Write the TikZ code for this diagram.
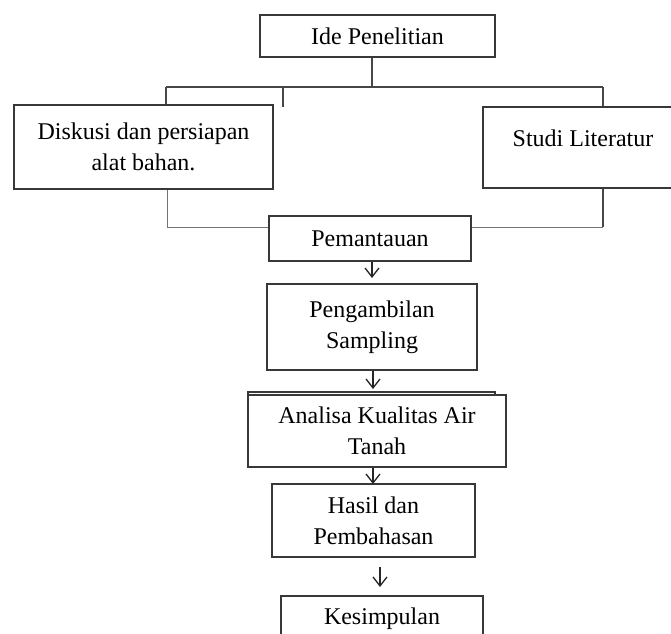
\documentclass[tikz,border=0pt]{standalone}
\usepackage{fontspec}
\setmainfont{Liberation Serif}
\usetikzlibrary{arrows.meta}
\begin{document}
\begin{tikzpicture}[x=1pt,y=-1pt,
  box/.style={draw=black!78, line width=1.5pt, fill=white, inner sep=0pt,
    align=center, font=\fontsize{24}{31}\selectfont},
  link/.style={draw=black!72, line width=1.2pt},
  thin/.style={draw=black!55, line width=1pt},
  arr/.style={draw=black!85, line width=1.3pt, -{Straight Barb[length=9pt,width=14pt]}}
]
\useasboundingbox (0,0) rectangle (671,633);

% boxes
\node[box, minimum width=235pt, minimum height=42pt] (ide) at (377.5,36) {Ide Penelitian};
\node[box, minimum width=259pt, minimum height=84pt] (disk) at (143.5,147) {Diskusi dan persiapan\\alat bahan.};
\node[box, minimum width=200pt, minimum height=81pt, text depth=19pt] (studi) at (583,147.5) {Studi Literatur};
\node[box, minimum width=202pt, minimum height=45pt] (pem) at (370,238.5) {Pemantauan};
\node[box, minimum width=210pt, minimum height=86pt] (peng) at (372,327) {Pengambilan\\Sampling};
\draw[draw=black!78, line width=1.2pt, fill=white] (248,392) rectangle (495,420);
\node[box, minimum width=258pt, minimum height=72pt] (ana) at (377,431) {Analisa Kualitas Air\\Tanah};
\node[box, minimum width=203pt, minimum height=73pt] (hasil) at (373.5,520.5) {Hasil dan\\Pembahasan};
\node[box, minimum width=202pt, minimum height=45pt] (kes) at (382,618.5) {Kesimpulan};

% top tree
\coordinate (hub) at (372,87);
\coordinate (hl) at (166,87);
\coordinate (hr) at (603,87);
\coordinate (hm) at (283,87);
\coordinate (stubend) at (283,107);
\draw[link] (ide.south -| hub) -- (hub);
\draw[link] (hl) -- (hr);
\draw[link] (hl) -- (hl |- disk.north);
\draw[link] (hr) -- (hr |- studi.north);
\draw[link] (hm) -- (stubend);

% joins to Pemantauan
\coordinate (jl) at (167,227);
\coordinate (jr) at (603,227);
\draw[thin] (disk.south -| jl) -- (jl) -- (jl -| pem.west);
\draw[link] (studi.south -| jr) -- (jr);
\draw[thin] (jr) -- (jr -| pem.east);

% arrows
\coordinate (a1) at (372,278);
\draw[arr] (pem.south -| a1) -- (a1);
\coordinate (a2) at (373,389);
\draw[arr] (peng.south -| a2) -- (a2);
\coordinate (a3) at (373,484);
\draw[arr] (ana.south -| a3) -- (a3);
\coordinate (a4s) at (380,567);
\coordinate (a4e) at (380,587);
\draw[arr] (a4s) -- (a4e);
\end{tikzpicture}
\end{document}
